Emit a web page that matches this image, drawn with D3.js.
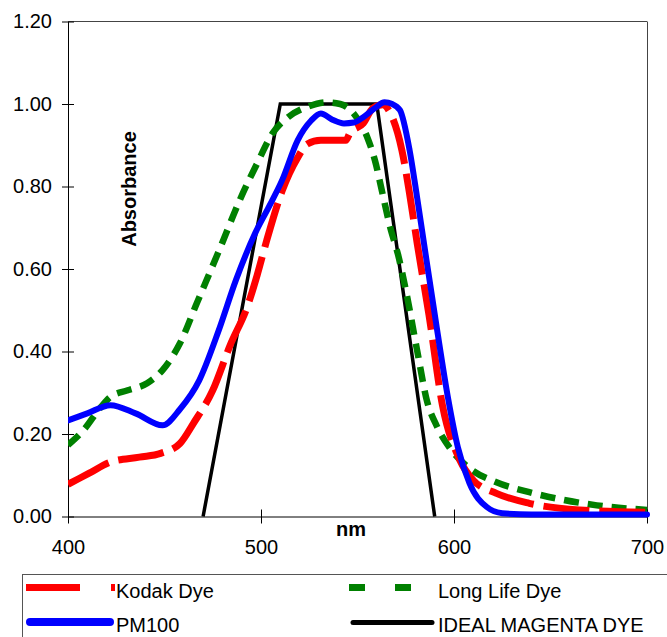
<!DOCTYPE html>
<html><head><meta charset="utf-8">
<script src="https://cdn.jsdelivr.net/npm/d3@7"></script>
<style>body{margin:0;background:#fff}svg{display:block}text{font-family:"Liberation Sans",Arial,sans-serif}</style>
</head><body><svg id="c" width="667" height="637"></svg>
<script>
const xTicks = [400, 500, 600, 700];
const yTicks = [0, 0.2, 0.4, 0.6, 0.8, 1.0, 1.2];
const kodakNm  = [400,411,422,437,448,458,465,475,484,493,498,503,511,519,524,531,544,546,553,558,563,568,573,577,581,587,594,603,610,622,639,665,700];
const kodakVal = [0.078,0.105,0.132,0.144,0.153,0.177,0.226,0.306,0.415,0.51,0.585,0.67,0.79,0.87,0.903,0.912,0.912,0.929,0.953,0.99,0.998,0.968,0.888,0.782,0.66,0.49,0.27,0.137,0.088,0.056,0.032,0.016,0.01];
const longNm  = [400,408,417,422,431,441,449,458,467,479,489,498,506,514,524,534,541,548,555,559,563,567,571,575,581,586,591,598,608,622,639,657,674,700];
const longVal = [0.173,0.209,0.265,0.29,0.306,0.323,0.355,0.42,0.52,0.653,0.767,0.856,0.929,0.968,0.993,1.004,1.0,0.977,0.92,0.864,0.782,0.7,0.635,0.55,0.4,0.28,0.22,0.165,0.117,0.083,0.059,0.04,0.027,0.016];
const pmNm  = [400,410,422,435,449,458,468,478,487,497,504,511,519,526,531,537,543,548,553,559,564,568,572,577,581,585,591,597,602,608,617,625,640,700];
const pmVal = [0.233,0.25,0.27,0.25,0.221,0.26,0.33,0.45,0.573,0.687,0.75,0.816,0.912,0.96,0.977,0.962,0.953,0.955,0.968,0.99,1.004,1.0,0.985,0.888,0.77,0.645,0.46,0.285,0.168,0.081,0.023,0.008,0.005,0.005];
const idealNm  = [470, 510, 560, 590];
const idealVal = [0, 1, 1, 0];
const seriesNames = ["Kodak Dye", "Long Life Dye", "PM100", "IDEAL MAGENTA DYE"];

const svg = d3.select("#c");
const x = d3.scaleLinear().domain([400, 700]).range([68, 647]);
const y = d3.scaleLinear().domain([0, 1.2]).range([516.5, 21.5]);

svg.append("line").attr("x1",68).attr("x2",647).attr("y1",21.5).attr("y2",21.5).attr("stroke","#444").attr("stroke-width",1);
svg.append("line").attr("x1",647.5).attr("x2",647.5).attr("y1",21.5).attr("y2",516.5).attr("stroke","#444").attr("stroke-width",1);

const yAxis = svg.append("g").attr("transform","translate(68,0)")
  .call(d3.axisLeft(y).tickValues(yTicks).tickFormat(d3.format(".2f")).tickSize(6).tickSizeOuter(0));
yAxis.selectAll(".tick line").attr("x2",6).attr("x1",-6);
yAxis.selectAll("text").attr("x",-16).attr("font-size",20).attr("fill","#000").style("font-family","Liberation Sans, Arial");
yAxis.select(".domain").attr("stroke","#000");

const xAxis = svg.append("g").attr("transform","translate(0,516.5)")
  .call(d3.axisBottom(x).tickValues(xTicks).tickFormat(d3.format("d")).tickSize(7).tickSizeOuter(0));
xAxis.selectAll(".tick line").attr("y1",-7).attr("y2",7).attr("stroke","#000");
xAxis.selectAll("text").attr("y",23).attr("dy","0.71em").attr("font-size",20).attr("fill","#000").style("font-family","Liberation Sans, Arial");
xAxis.select(".domain").attr("stroke","#000");

svg.append("clipPath").attr("id","pc").append("rect").attr("x",68).attr("y",15).attr("width",582).attr("height",505);

const line = d3.line().x(d=>x(d[0])).y(d=>y(d[1])).curve(d3.curveMonotoneX);
const g = svg.append("g").attr("clip-path","url(#pc)");
const zip = (a,b)=>a.map((v,i)=>[v,b[i]]);
g.append("path").datum(zip(idealNm,idealVal)).attr("d",d3.line().x(d=>x(d[0])).y(d=>y(d[1]))).attr("fill","none").attr("stroke","#000").attr("stroke-width",3.5).attr("stroke-linejoin","miter");
g.append("path").datum(zip(longNm,longVal)).attr("d",line).attr("fill","none").attr("stroke","#008000").attr("stroke-width",6.5).attr("stroke-dasharray","15,9");
g.append("path").datum(zip(kodakNm,kodakVal)).attr("d",line).attr("fill","none").attr("stroke","#ff0000").attr("stroke-width",7).attr("stroke-dasharray","46,10");
g.append("path").datum(zip(pmNm,pmVal)).attr("d",line).attr("fill","none").attr("stroke","#0000ff").attr("stroke-width",6).attr("stroke-linecap","round");

svg.append("text").attr("transform","translate(136,189) rotate(-90)").attr("text-anchor","middle")
  .attr("font-size",20).attr("font-weight","bold").text("Absorbance");
svg.append("text").attr("x",351).attr("y",536).attr("text-anchor","middle")
  .attr("font-size",20).attr("font-weight","bold").text("nm");

const lg = svg.append("g");
lg.append("rect").attr("x",22.5).attr("y",574.5).attr("width",700).attr("height",100).attr("fill","#fff").attr("stroke","#555").attr("stroke-width",1);
const leg = [
  {name:seriesNames[0], x1:26, x2:116, y:587.5, color:"#ff0000", w:7, dash:"54,31,4,100", cap:"butt", tx:116, ty:598},
  {name:seriesNames[1], x1:349, x2:434, y:587.5, color:"#008000", w:7, dash:"16,30,16,100", cap:"butt", tx:438, ty:598},
  {name:seriesNames[2], x1:30, x2:110, y:622, color:"#0000ff", w:8, dash:null, cap:"round", tx:116, ty:632},
  {name:seriesNames[3], x1:353, x2:432, y:622.5, color:"#000", w:5, dash:null, cap:"round", tx:438, ty:632}
];
leg.forEach(d=>{
  lg.append("line").attr("x1",d.x1).attr("x2",d.x2).attr("y1",d.y).attr("y2",d.y)
    .attr("stroke",d.color).attr("stroke-width",d.w).attr("stroke-dasharray",d.dash).attr("stroke-linecap",d.cap);
  lg.append("text").attr("x",d.tx).attr("y",d.ty).attr("font-size",20).text(d.name);
});
</script></body></html>
